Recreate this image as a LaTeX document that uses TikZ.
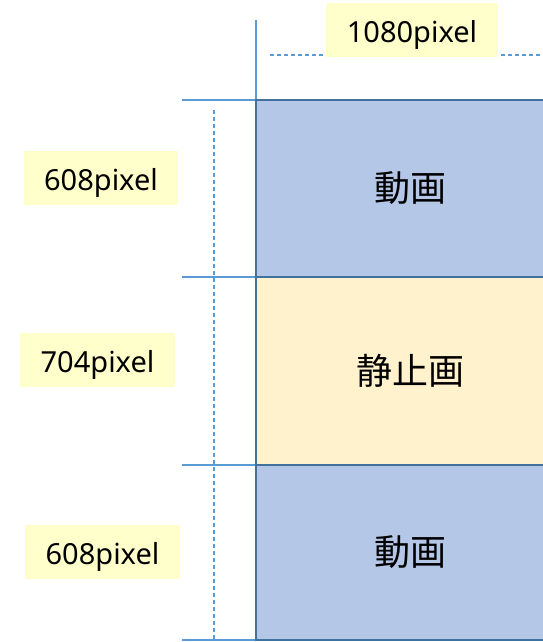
\documentclass[tikz,border=0pt]{standalone}
\usepackage{fontspec}
\setmainfont{Noto Sans}
\newfontfamily\cjk{Noto Sans CJK JP}
\definecolor{boxblue}{HTML}{B4C7E7}
\definecolor{boxyellow}{HTML}{FFF2CC}
\definecolor{edgeblue}{HTML}{41719C}
\definecolor{guide}{HTML}{5B9BD5}
\definecolor{labelbg}{HTML}{FFFFCC}
\tikzset{
  part/.style={draw=edgeblue, line width=2.3pt, minimum width=308pt, inner sep=0pt, font=\cjk\fontsize{36}{40}\selectfont},
  dimlabel/.style={fill=labelbg, inner sep=0pt, minimum height=54pt, text height=31pt, text depth=7pt, font=\fontsize{29}{32}\selectfont},
  guideline/.style={draw=guide, line width=1.2pt},
  dimline/.style={draw=guide, line width=1.2pt, dash pattern=on 4pt off 3pt}
}
\begin{document}
\begin{tikzpicture}[x=1pt,y=-1pt]
\useasboundingbox (0,0) rectangle (543,642);
\clip (0,0) rectangle (543,642);
% extension lines
\coordinate (h1a) at (182,100); \coordinate (h1b) at (256,100);
\coordinate (h2a) at (182,277); \coordinate (h2b) at (256,277);
\coordinate (h3a) at (182,465); \coordinate (h3b) at (256,465);
\coordinate (h4a) at (182,640); \coordinate (h4b) at (256,640);
\coordinate (vta) at (256,20); \coordinate (vtb) at (256,100);
\draw[guideline] (h1a) -- (h1b);
\draw[guideline] (h2a) -- (h2b);
\draw[guideline] (h3a) -- (h3b);
\draw[guideline] (h4a) -- (h4b);
\draw[guideline] (vta) -- (vtb);
% dimension lines
\coordinate (dva) at (214,110); \coordinate (dvb) at (214,640);
\coordinate (dha) at (270,55); \coordinate (dhb) at (560,55);
\draw[dimline] (dva) -- (dvb);
\draw[dimline] (dha) -- (dhb);
% parts
\node[part, fill=boxblue, minimum height=177pt] (top) at (410,188.5) {動画};
\node[part, fill=boxyellow, minimum height=188pt] (mid) at (410,371) {静止画};
\node[part, fill=boxblue, minimum height=175pt] (bot) at (410,552.5) {動画};
% labels
\node[dimlabel, minimum width=172pt] (wlab) at (412,30) {1080pixel};
\node[dimlabel, minimum width=154pt] (l1) at (101,178) {608pixel};
\node[dimlabel, minimum width=155pt] (l2) at (97.5,360) {704pixel};
\node[dimlabel, minimum width=155pt] (l3) at (102.5,552) {608pixel};
\end{tikzpicture}
\end{document}
